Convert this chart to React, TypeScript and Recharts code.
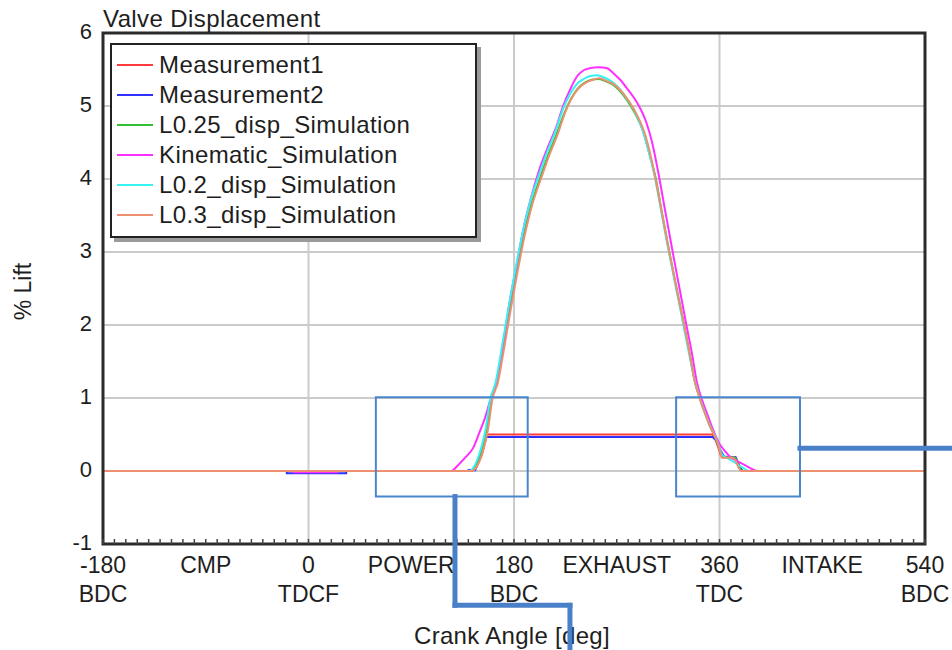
import React from "react";
import { LineChart, Line, XAxis, YAxis, CartesianGrid, ReferenceLine, ReferenceArea } from "recharts";

const FONT = "Arial, 'Liberation Sans', Helvetica, sans-serif";
const TEXT = "#1e1e1e";

// [crank angle deg, % lift]
const measurement1 = [
  [-180, 0], [143, 0], [147, 0.05], [152, 0.23], [155, 0.41], [156, 0.5], [354, 0.5], [356, 0.45],
  [359, 0.32], [361, 0.22], [363, 0.19], [374, 0.19], [378, 0.05], [380, 0], [540, 0],
];
const measurement2 = [
  [-180, 0], [-19, 0], [-19, -0.03], [33, -0.03], [33, 0], [139, 0], [140, 0.01], [146, 0.01],
  [150, 0.2], [154, 0.4], [155, 0.465], [354, 0.465], [357, 0.42], [361, 0.28], [364, 0.2],
  [374, 0.19], [378, 0.05], [380, 0], [540, 0],
];
const l025Sim = [
  [-180, 0], [142, 0], [146, 0.05], [151, 0.22], [154, 0.4], [156, 0.55], [160, 0.97], [165, 1.22],
  [170, 1.64], [176, 2.2], [182, 2.72], [188, 3.2], [195, 3.64], [203, 4.02], [210, 4.33], [217, 4.6],
  [224, 4.9], [230, 5.1], [236, 5.24], [242, 5.32], [248, 5.36], [254, 5.37], [260, 5.34], [266, 5.3],
  [272, 5.22], [279, 5.08], [286, 4.9], [293, 4.66], [299, 4.32], [304, 4.02], [310, 3.5], [316, 3.0],
  [323, 2.46], [329, 2.0], [334, 1.6], [338, 1.25], [343, 0.98], [348, 0.76], [352, 0.6], [356, 0.47],
  [359, 0.35], [361, 0.25], [363, 0.19], [373, 0.19], [380, 0], [540, 0],
];
const kinematicSim = [
  [-180, 0], [-14, 0], [-13, -0.018], [25, -0.018], [26, 0], [125, 0], [131, 0.08], [137, 0.18],
  [144, 0.31], [150, 0.54], [154, 0.7], [159, 0.96], [165, 1.25], [170, 1.7], [176, 2.3], [182, 2.8],
  [188, 3.3], [195, 3.75], [202, 4.12], [210, 4.45], [217, 4.71], [223, 5.0], [229, 5.22], [235, 5.4],
  [241, 5.49], [247, 5.52], [254, 5.53], [261, 5.52], [267, 5.45], [273, 5.36], [280, 5.22], [288, 5.04],
  [296, 4.77], [301, 4.5], [306, 4.12], [312, 3.6], [319, 3.0], [325, 2.5], [331, 2.0], [336, 1.6],
  [340, 1.23], [345, 0.96], [350, 0.75], [354, 0.58], [360, 0.37], [365, 0.27], [369, 0.2], [375, 0.14],
  [381, 0.09], [387, 0.04], [393, 0], [540, 0],
];
const l02Sim = [
  [-180, 0], [141, 0], [145, 0.06], [150, 0.25], [153, 0.42], [155, 0.56], [159, 0.97], [164, 1.22],
  [169, 1.66], [175, 2.22], [181, 2.74], [187, 3.22], [194, 3.68], [202, 4.06], [209, 4.37], [216, 4.64],
  [223, 4.96], [229, 5.16], [235, 5.3], [241, 5.37], [247, 5.41], [253, 5.42], [259, 5.39], [265, 5.34],
  [271, 5.26], [278, 5.12], [285, 4.95], [292, 4.7], [298, 4.38], [303, 4.05], [309, 3.55], [315, 3.05],
  [322, 2.5], [328, 2.03], [333, 1.63], [338, 1.26], [343, 0.99], [348, 0.77], [352, 0.61], [356, 0.48],
  [359, 0.36], [361, 0.27], [363, 0.21], [368, 0.17], [374, 0.11], [380, 0.05], [386, 0], [540, 0],
];
const l03Sim = [
  [-180, 0], [143, 0], [147, 0.05], [152, 0.23], [155, 0.41], [157, 0.55], [161, 0.98], [166, 1.22],
  [171, 1.65], [177, 2.2], [183, 2.72], [189, 3.2], [196, 3.65], [204, 4.02], [211, 4.33], [218, 4.6],
  [225, 4.92], [231, 5.12], [237, 5.25], [243, 5.32], [249, 5.36], [255, 5.38], [261, 5.34], [267, 5.3],
  [273, 5.22], [280, 5.08], [287, 4.9], [294, 4.65], [300, 4.3], [304, 4.0], [310, 3.5], [316, 3.0],
  [323, 2.45], [329, 2.0], [334, 1.6], [338, 1.25], [343, 0.98], [348, 0.76], [352, 0.6], [356, 0.47],
  [359, 0.35], [361, 0.24], [362, 0.18], [372, 0.18], [379, 0], [540, 0],
];

const series = [
  { name: "Measurement1", color: "#ff3b3b", points: measurement1, smooth: false },
  { name: "Measurement2", color: "#3030ff", points: measurement2, smooth: false },
  { name: "L0.25_disp_Simulation", color: "#33c033", points: l025Sim, smooth: true },
  { name: "Kinematic_Simulation", color: "#ff30ff", points: kinematicSim, smooth: true },
  { name: "L0.2_disp_Simulation", color: "#36f2f2", points: l02Sim, smooth: true },
  { name: "L0.3_disp_Simulation", color: "#ee8f6f", points: l03Sim, smooth: true },
];

const xMinorTicks = Array.from({ length: 73 }, (_, i) => -180 + i * 10);
const xLabelDegs = [-180, -90, 0, 90, 180, 270, 360, 450, 540];
const xLabelTop = ["-180", "CMP", "0", "POWER", "180", "EXHAUST", "360", "INTAKE", "540"];
const xLabelBottom = ["BDC", "", "TDCF", "", "BDC", "", "TDC", "", "BDC"];
const yTicks = [-1, 0, 1, 2, 3, 4, 5, 6];
const verticalGrid = [0, 180, 360];

// zoom boxes and their connector strokes (deg / % lift)
const zoomBoxes = [
  { x1: 59, x2: 192, y1: -0.35, y2: 1.01 },
  { x1: 322, x2: 430.5, y1: -0.35, y2: 1.01 },
];
const connectors = [
  [[128.3, -0.35], [128.3, -1.84]],
  [[128.3, -1.84], [229, -1.84]],
  [[229, -1.84], [229, -2.8]],
  [[430.5, 0.31], [580, 0.31]],
];

const toXY = (pts: number[][]) => pts.map(([x, y]) => ({ x, y }));

function XTick(props: any) {
  const { x, y, payload } = props;
  const i = xLabelDegs.indexOf(payload.value);
  return (
    <g>
      <line x1={x} x2={x} y1={y} y2={y - 5} stroke="#444" strokeWidth={1.5} />
      {i >= 0 && (
        <text x={x} y={y + 29} textAnchor="middle" fontSize={23} fill={TEXT} fontFamily={FONT}>
          {xLabelTop[i]}
        </text>
      )}
      {i >= 0 && xLabelBottom[i] && (
        <text x={x} y={y + 58} textAnchor="middle" fontSize={23} fill={TEXT} fontFamily={FONT}>
          {xLabelBottom[i]}
        </text>
      )}
    </g>
  );
}

function YTick(props: any) {
  const { x, y, payload } = props;
  return (
    <text x={x - 11} y={y + 6} textAnchor="end" fontSize={22} fill={TEXT} fontFamily={FONT}>
      {payload.value}
    </text>
  );
}

const xTitle = (p: any) => {
  const vb = p.viewBox;
  return (
    <text
      x={vb.x + vb.width / 2 - 2}
      y={vb.y + 100}
      textAnchor="middle"
      fontSize={24}
      letterSpacing={0.3}
      fill={TEXT}
      fontFamily={FONT}
    >
      Crank Angle [deg]
    </text>
  );
};

const yTitle = (p: any) => {
  const vb = p.viewBox;
  const cx = vb.x - 20;
  const cy = vb.y + vb.height / 2 + 3;
  return (
    <text x={cx} y={cy + 8} transform={`rotate(-90, ${cx}, ${cy})`} textAnchor="middle" fontSize={23} fill={TEXT} fontFamily={FONT}>
      % Lift
    </text>
  );
};

export default function App() {
  return (
    <div style={{ position: "fixed", left: 0, top: 0, width: 952, height: 650, overflow: "hidden", background: "#fff" }}>
      <LineChart width={952} height={650} margin={{ top: 33, right: 27, bottom: 0, left: 43 }}>
        <CartesianGrid vertical={false} stroke="#cbcbcb" strokeWidth={2} />
        {verticalGrid.map((d) => (
          <ReferenceLine key={d} x={d} stroke="#cbcbcb" strokeWidth={2} zIndex={-100} />
        ))}
        <XAxis
          dataKey="x"
          type="number"
          domain={[-180, 540]}
          ticks={xMinorTicks}
          interval={0}
          tickSize={0}
          tickMargin={0}
          axisLine={false}
          tickLine={false}
          tick={<XTick />}
          height={106}
          label={xTitle}
        />
        <YAxis
          type="number"
          domain={[-1, 6]}
          ticks={yTicks}
          interval={0}
          tickSize={0}
          tickMargin={0}
          axisLine={false}
          tickLine={false}
          tick={<YTick />}
          width={60}
          label={yTitle}
        />
        {series.map((s) => (
          <Line
            key={s.name}
            name={s.name}
            data={toXY(s.points)}
            dataKey="y"
            type={s.smooth ? "monotone" : "linear"}
            stroke={s.color}
            strokeWidth={2}
            dot={false}
            activeDot={false}
            isAnimationActive={false}
          />
        ))}
        <ReferenceArea x1={-180} x2={540} y1={-1} y2={6} fill="none" stroke="#2b2b2b" strokeWidth={3} zIndex={450} />
        {zoomBoxes.map((b, i) => (
          <ReferenceArea
            key={`box${i}`}
            x1={b.x1}
            x2={b.x2}
            y1={b.y1}
            y2={b.y2}
            fill="none"
            stroke="#4a86d0"
            strokeWidth={2}
            ifOverflow="visible"
            zIndex={2500}
          />
        ))}
        {connectors.map((seg, i) => (
          <ReferenceLine
            key={`con${i}`}
            segment={[{ x: seg[0][0], y: seg[0][1] }, { x: seg[1][0], y: seg[1][1] }]}
            stroke="#4a80c8"
            strokeWidth={5}
            strokeLinecap="square"
            ifOverflow="visible"
            zIndex={2500}
          />
        ))}
      </LineChart>

      <div
        style={{
          position: "absolute",
          left: 103,
          top: 7,
          fontFamily: FONT,
          fontSize: 24,
          letterSpacing: 0.4,
          lineHeight: "24px",
          color: TEXT,
          whiteSpace: "nowrap",
        }}
      >
        Valve Displacement
      </div>

      <div
        style={{
          position: "absolute",
          left: 110,
          top: 43,
          width: 367,
          height: 195,
          boxSizing: "border-box",
          border: "2px solid #222",
          background: "#fff",
          boxShadow: "4px 4px 0 #9a9a9a",
          paddingTop: 5,
          paddingLeft: 5,
          fontFamily: FONT,
          fontSize: 24,
          letterSpacing: 0.4,
          color: TEXT,
        }}
      >
        {series.map((s) => (
          <div key={s.name} style={{ display: "flex", alignItems: "center", height: 30, whiteSpace: "nowrap" }}>
            <div style={{ width: 36, height: 2, background: s.color, marginRight: 6 }} />
            <span style={{ lineHeight: "30px" }}>{s.name}</span>
          </div>
        ))}
      </div>
    </div>
  );
}
